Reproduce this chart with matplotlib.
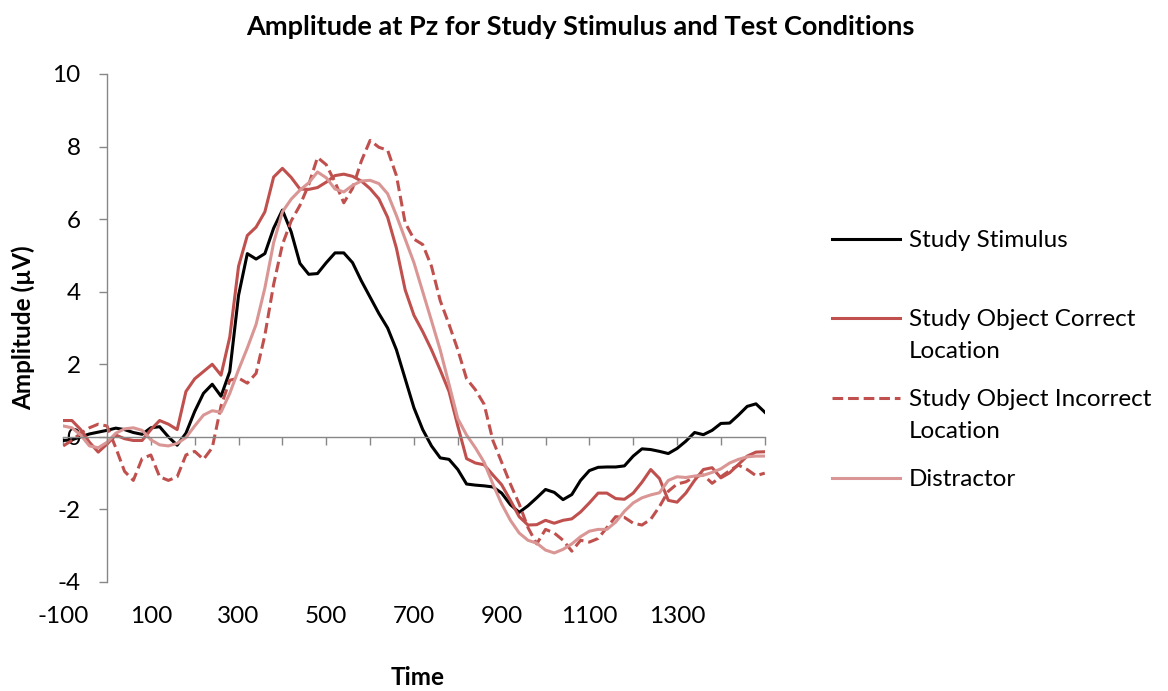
import numpy as np
import matplotlib
matplotlib.use("Agg")
import matplotlib.pyplot as plt
from matplotlib.lines import Line2D

plt.rcParams['font.family'] = ['Lato', 'DejaVu Sans']
plt.rcParams['axes.unicode_minus'] = False

# time axis (ms), one sample every 20 ms
times = np.arange(-100, 1501, 20)

study_stimulus = [
    -0.1, -0.08, 0.0, 0.08, 0.13, 0.18, 0.24, 0.2, 0.12, 0.07,
    0.25, 0.28, 0.0, -0.23, 0.1, 0.7, 1.2, 1.45, 1.12, 1.8,
    3.9, 5.05, 4.9, 5.05, 5.75, 6.25, 5.65, 4.78, 4.48, 4.5,
    4.8, 5.07, 5.07, 4.8, 4.3, 3.85, 3.4, 3.0, 2.4, 1.6,
    0.8, 0.2, -0.25, -0.58, -0.62, -0.9, -1.3, -1.33, -1.35, -1.38,
    -1.55, -1.87, -2.08, -1.9, -1.68, -1.45, -1.53, -1.73, -1.59, -1.2,
    -0.93, -0.84, -0.83, -0.83, -0.8, -0.53, -0.33, -0.35, -0.4, -0.46,
    -0.32, -0.12, 0.12, 0.06, 0.18, 0.37, 0.38, 0.6, 0.84, 0.91, 0.68,
]

correct_location = [
    0.45, 0.45, 0.2, -0.15, -0.42, -0.2, 0.05, -0.05, -0.1, -0.1,
    0.2, 0.45, 0.35, 0.2, 1.25, 1.6, 1.8, 2.0, 1.7, 2.75,
    4.7, 5.55, 5.78, 6.2, 7.16, 7.4, 7.15, 6.83, 6.82, 6.87,
    7.02, 7.2, 7.24, 7.18, 7.05, 6.84, 6.56, 6.05, 5.2, 4.05,
    3.35, 2.9, 2.4, 1.84, 1.25, 0.3, -0.6, -0.72, -0.77, -1.05,
    -1.32, -1.75, -2.2, -2.43, -2.42, -2.3, -2.38, -2.3, -2.26, -2.07,
    -1.82, -1.55, -1.55, -1.7, -1.72, -1.55, -1.25, -0.9, -1.15, -1.75,
    -1.8, -1.55, -1.2, -0.9, -0.85, -1.13, -0.99, -0.76, -0.53, -0.42, -0.41,
]

incorrect_location = [
    -0.25, -0.1, 0.1, 0.25, 0.35, 0.3, -0.3, -0.95, -1.2, -0.6,
    -0.5, -1.1, -1.2, -1.1, -0.5, -0.4, -0.62, -0.3, 0.85, 1.56,
    1.62, 1.48, 1.75, 2.8, 4.2, 5.3, 5.95, 6.38, 6.95, 7.7,
    7.5, 7.02, 6.45, 6.85, 7.6, 8.17, 7.98, 7.9, 7.2, 5.9,
    5.45, 5.3, 4.7, 3.75, 3.1, 2.4, 1.6, 1.3, 0.9, -0.1,
    -0.7, -1.3, -1.85, -2.5, -2.95, -2.55, -2.65, -2.85, -3.15, -2.85,
    -2.9, -2.8, -2.5, -2.2, -2.22, -2.38, -2.43, -2.27, -1.92, -1.5,
    -1.3, -1.24, -1.1, -1.05, -1.28, -1.1, -0.93, -0.78, -0.9, -1.07, -1.0,
]

distractor = [
    0.3, 0.25, 0.05, -0.25, -0.3, -0.15, 0.1, 0.22, 0.25, 0.18,
    -0.08, -0.22, -0.25, -0.18, -0.02, 0.3, 0.6, 0.72, 0.68, 1.2,
    1.85, 2.45, 3.1, 4.1, 5.35, 6.2, 6.55, 6.8, 7.0, 7.3,
    7.14, 6.83, 6.75, 6.93, 7.05, 7.07, 6.98, 6.7, 6.1, 5.45,
    4.8, 4.0, 3.2, 2.39, 1.45, 0.5, 0.05, -0.3, -0.7, -1.3,
    -1.85, -2.3, -2.65, -2.85, -2.93, -3.12, -3.2, -3.1, -2.95, -2.75,
    -2.6, -2.55, -2.55, -2.35, -2.05, -1.82, -1.68, -1.6, -1.54, -1.2,
    -1.1, -1.12, -1.08, -1.06, -0.98, -0.88, -0.72, -0.62, -0.55, -0.53, -0.53,
]

x_label_ticks = [-100, 100, 300, 500, 700, 900, 1100, 1300]
y_ticks = [-4, -2, 0, 2, 4, 6, 8, 10]

series = [
    ("Study Stimulus", study_stimulus, "#000000", "-"),
    ("Study Object Correct\nLocation", correct_location, "#C0504D", "-"),
    ("Study Object Incorrect\nLocation", incorrect_location, "#C0504D", (0, (3.5, 1.6))),
    ("Distractor", distractor, "#D99694", "-"),
]

W, H = 1168, 691
axis_grey = "#878787"
fs = 17.5

fig = plt.figure(figsize=(W / 100, H / 100), dpi=100)
ax = fig.add_axes([63.15 / W, 1 - 582 / H, 701.6 / W, 508 / H])

for label, vals, color, ls in series:
    ax.plot(times, vals, color=color, lw=2.2, linestyle=ls)

ax.set_xlim(-100, 1500)
ax.set_ylim(-4, 10)

ax.spines[['top', 'right']].set_visible(False)
ax.spines['left'].set_position(('data', 0))
ax.spines['bottom'].set_position(('data', 0))
for s in ('left', 'bottom'):
    ax.spines[s].set_color(axis_grey)
    ax.spines[s].set_linewidth(1.0)

ax.set_yticks(y_ticks)
ax.tick_params(axis='y', direction='out', length=6, width=1.0, color=axis_grey,
               labelsize=fs, pad=13)
ax.set_xticks(np.arange(-100, 1501, 100))
ax.tick_params(axis='x', direction='out', length=6, width=1.0, color=axis_grey,
               labelbottom=False)

sec = ax.secondary_xaxis('bottom')
sec.set_xticks(x_label_ticks)
sec.set_xticklabels([str(v) for v in x_label_ticks])
sec.tick_params(length=0, pad=17, labelsize=fs)
sec.spines['bottom'].set_visible(False)

ax.set_ylabel("Amplitude (µV)", fontsize=fs, fontweight='bold')
ax.yaxis.set_label_coords((35 - 63.15) / 701.6, 0.5)
ax.set_xlabel("Time", fontsize=fs, fontweight='bold')
ax.xaxis.set_label_coords((418 - 63.15) / 701.6, (582 - 666) / 508)

fig.text(580 / W, 1 - 27 / H, "Amplitude at Pz for Study Stimulus and Test Conditions",
         ha='center', va='center', fontsize=19.5, fontweight='bold')

# legend drawn by hand so the line sits on the first text row, as in Excel
legend_rows = [239, 318, 398, 478]
row_step = 33
for (label, vals, color, ls), ypx in zip(series, legend_rows):
    y = 1 - ypx / H
    fig.add_artist(Line2D([832 / W, 900 / W], [y, y], color=color, lw=2.2, linestyle=ls))
    for i, line in enumerate(label.split("\n")):
        fig.text(909 / W, 1 - (ypx + 7.5 + i * row_step) / H, line,
                 ha='left', va='baseline', fontsize=fs)

fig.savefig("out.png", dpi=100)
